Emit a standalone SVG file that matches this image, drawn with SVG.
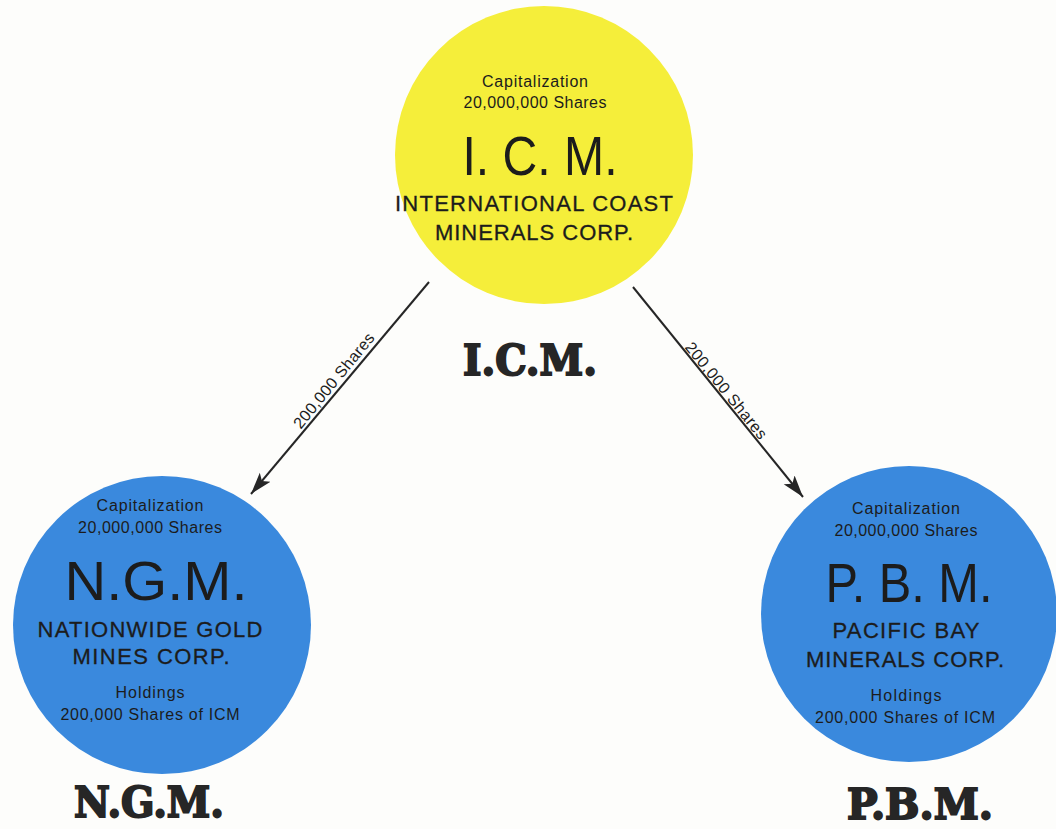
<svg xmlns="http://www.w3.org/2000/svg" width="1056" height="829" viewBox="0 0 1056 829">
<defs>
<style>
.bg{fill:#fdfdfb}
.yel{fill:#f5ee3a}
.blu{fill:#3a89dd}
.t{font-family:"Liberation Sans",Arial,sans-serif;fill:#1c1c1c;text-anchor:middle}
.sm{font-size:16px}
.co{font-size:22px;stroke:#1c1c1c;stroke-width:0.3}
.big{font-size:56px}
.lbl{font-family:"DejaVu Serif","Liberation Serif",serif;font-weight:bold;font-size:42px;fill:#262626;stroke:#262626;stroke-width:2;text-anchor:middle}
.al{font-family:"Liberation Sans",Arial,sans-serif;font-size:16px;fill:#1c1c1c;text-anchor:middle}
.conn{stroke:#262626;stroke-width:2;fill:none}
</style>
<marker id="ah" markerUnits="userSpaceOnUse" markerWidth="24" markerHeight="16" refX="22" refY="8" orient="auto">
<path d="M0,1 L22,8 L0,15 L5,8 Z" fill="#262626"/>
</marker>
</defs>
<rect class="bg" x="0" y="0" width="1056" height="829"/>

<g id="connectors">
<line class="conn" x1="429" y1="282" x2="251" y2="494" marker-end="url(#ah)"/>
<text class="al" x="338" y="384" textLength="118" transform="rotate(-50.7 338 384)">200,000 Shares</text>
<line class="conn" x1="633" y1="287" x2="803" y2="497" marker-end="url(#ah)"/>
<text class="al" x="722" y="394" textLength="120" transform="rotate(50.9 722 394)">200,000 Shares</text>
</g>

<g id="icm">
<circle class="yel" cx="544" cy="155" r="149"/>
<text class="t sm" x="535" y="87" textLength="106">Capitalization</text>
<text class="t sm" x="535" y="108" textLength="143">20,000,000 Shares</text>
<text class="t big" x="540" y="175" textLength="155" lengthAdjust="spacingAndGlyphs">I. C. M.</text>
<text class="t co" x="534" y="211" textLength="278">INTERNATIONAL COAST</text>
<text class="t co" x="534" y="240" textLength="198">MINERALS CORP.</text>
</g>
<g id="icm-label">
<text class="lbl" x="530" y="375" textLength="134" lengthAdjust="spacingAndGlyphs">I.C.M.</text>
</g>

<g id="ngm">
<circle class="blu" cx="162" cy="625" r="149"/>
<text class="t sm" x="150" y="511" textLength="107">Capitalization</text>
<text class="t sm" x="150" y="533" textLength="144">20,000,000 Shares</text>
<text class="t big" x="156" y="600" textLength="183" lengthAdjust="spacingAndGlyphs">N.G.M.</text>
<text class="t co" x="150" y="637" textLength="225">NATIONWIDE GOLD</text>
<text class="t co" x="151" y="664" textLength="157">MINES CORP.</text>
<text class="t sm" x="150" y="698" textLength="69">Holdings</text>
<text class="t sm" x="150" y="720" textLength="179">200,000 Shares of ICM</text>
</g>
<g id="ngm-label">
<text class="lbl" x="149" y="817" textLength="150" lengthAdjust="spacingAndGlyphs">N.G.M.</text>
</g>

<g id="pbm">
<circle class="blu" cx="909" cy="614" r="148"/>
<text class="t sm" x="906" y="514" textLength="108">Capitalization</text>
<text class="t sm" x="906" y="536" textLength="143">20,000,000 Shares</text>
<text class="t big" x="909" y="602" textLength="167" lengthAdjust="spacingAndGlyphs">P. B. M.</text>
<text class="t co" x="906" y="638" textLength="147">PACIFIC BAY</text>
<text class="t co" x="905" y="667" textLength="198">MINERALS CORP.</text>
<text class="t sm" x="906" y="701" textLength="71">Holdings</text>
<text class="t sm" x="905" y="723" textLength="180">200,000 Shares of ICM</text>
</g>
<g id="pbm-label">
<text class="lbl" x="920" y="819" textLength="146" lengthAdjust="spacingAndGlyphs">P.B.M.</text>
</g>
</svg>
